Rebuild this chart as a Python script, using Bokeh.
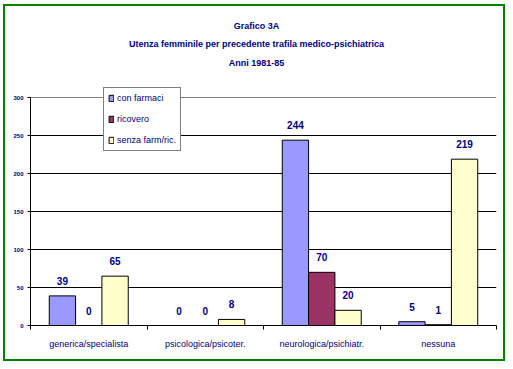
from bokeh.plotting import figure
from bokeh.models import (FixedTicker, ColumnDataSource, LabelSet, Label, Legend, LegendItem, Grid)
from bokeh.embed import file_html
from bokeh.resources import INLINE
from bokeh.core.properties import value

categories = ["generica/specialista", "psicologica/psicoter.", "neurologica/psichiatr.", "nessuna"]
series_names = ["con farmaci", "ricovero", "senza farm/ric."]
con_farmaci = [39, 0, 244, 5]
ricovero = [0, 0, 70, 1]
senza_farm = [65, 8, 20, 219]
y_ticks = [0, 50, 100, 150, 200, 250, 300]
title_lines = ["Grafico 3A", "Utenza femminile per precedente trafila medico-psichiatrica", "Anni 1981-85"]

colors = ["#9999FF", "#993366", "#FFFFCC"]
navy = "#000080"
font = "Liberation Sans"
y_max = y_ticks[-1]

# frame extends to the top of the chart area; axis/grids are bounded at y_max
p = figure(width=502, height=357, output_backend="svg", toolbar_location=None,
           x_range=(0, len(categories)), y_range=(0, 420),
           min_border_left=25, min_border_right=11, min_border_top=0, min_border_bottom=38)
p.styles = {"margin-left": "3px", "margin-top": "4px",
            "border": "2px solid #008000"}
p.background_fill_color = "white"
p.border_fill_color = "white"
p.outline_line_color = None

bw = 0.226
offsets = [-bw, 0.0, bw]
all_series = [con_farmaci, ricovero, senza_farm]
renderers = []
for s, vals, off, col in zip(series_names, all_series, offsets, colors):
    xs = [i + 0.5 + off for i in range(len(categories))]
    src = ColumnDataSource(dict(x=xs, top=vals, lab=[str(v) for v in vals]))
    r = p.vbar(x="x", top="top", width=bw, bottom=0, source=src,
               fill_color=col, line_color="black", line_width=1)
    renderers.append(r)
    ls = LabelSet(x="x", y="top", text="lab", source=src, y_offset=15,
                  text_align="center", text_baseline="middle",
                  text_font=value(font), text_font_size="10px", text_font_style="bold",
                  text_color=navy)
    p.add_layout(ls)

# grids
p.xgrid.ticker = FixedTicker(ticks=[len(categories)])
p.xgrid.grid_line_color = "#808080"
p.xgrid.bounds = (0, y_max)
p.ygrid.ticker = FixedTicker(ticks=y_ticks[1:-1])
p.ygrid.grid_line_color = "black"
p.ygrid.grid_line_width = 1
top_grid = Grid(dimension=1, ticker=FixedTicker(ticks=[y_max]), grid_line_color="#808080")
p.add_layout(top_grid)

# axes
p.yaxis.ticker = FixedTicker(ticks=y_ticks)
p.yaxis.bounds = (0, y_max)
p.yaxis.axis_line_color = "black"
p.yaxis.major_tick_line_color = "black"
p.yaxis.major_tick_out = 3
p.yaxis.major_tick_in = 0
p.yaxis.minor_tick_line_color = None
p.yaxis.major_label_text_font = font
p.yaxis.major_label_text_font_size = "6px"
p.yaxis.major_label_text_font_style = "bold"
p.yaxis.major_label_text_color = navy
p.yaxis.major_label_standoff = 4

centers = [i + 0.5 for i in range(len(categories))]
bounds = [i for i in range(len(categories) + 1)]
p.xaxis.ticker = FixedTicker(ticks=centers, minor_ticks=bounds)
p.xaxis.major_label_overrides = {c: cat for c, cat in zip(centers, categories)}
p.xaxis.major_tick_line_color = None
p.xaxis.minor_tick_line_color = "black"
p.xaxis.minor_tick_out = 4
p.xaxis.minor_tick_in = 0
p.xaxis.axis_line_color = "black"
p.xaxis.major_label_text_font = font
p.xaxis.major_label_text_font_size = "9px"
p.xaxis.major_label_text_color = navy
p.xaxis.major_label_standoff = 7

# title lines (screen units, relative to the plot frame)
title_y = [300, 282, 263]
for t, ty in zip(title_lines, title_y):
    p.add_layout(Label(x=226, y=ty, x_units="screen", y_units="screen", text=t,
                       text_align="center", text_baseline="middle",
                       text_font=font, text_font_size="9px", text_font_style="bold",
                       text_color=navy))

legend = Legend(items=[LegendItem(label=n, renderers=[r]) for n, r in zip(series_names, renderers)],
                location=(73, 174), border_line_color="black", border_line_width=1,
                background_fill_color="white", background_fill_alpha=1,
                label_text_font=font, label_text_font_size="9px", label_text_color=navy,
                glyph_width=6, glyph_height=8, label_height=12, spacing=9, padding=4,
                label_standoff=3, margin=0)
p.add_layout(legend, "center")

open("out.html", "w").write(file_html(p, INLINE))
